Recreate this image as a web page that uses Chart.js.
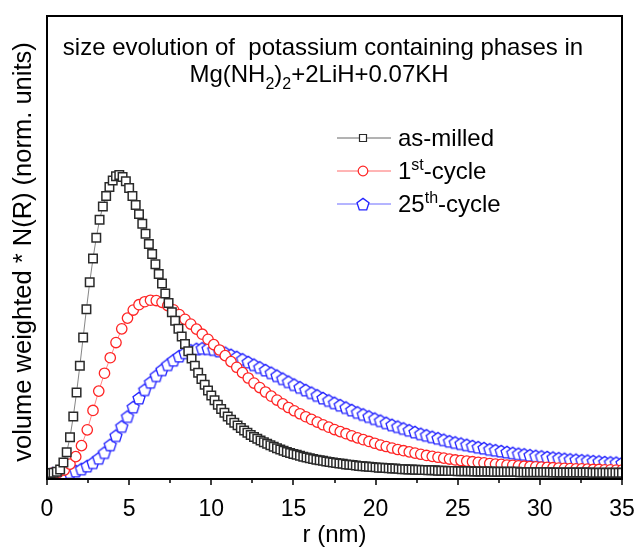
<!DOCTYPE html>
<html>
<head>
<meta charset="utf-8">
<script src="https://cdn.jsdelivr.net/npm/chart.js@4.4.0/dist/chart.umd.min.js"></script>
<style>
  html, body { margin: 0; padding: 0; background: #fff; }
</style>
</head>
<body>
<canvas id="myChart" width="635" height="550"></canvas>
<script>
// radius grid of the as-milled curve (nm)
const rMilled = [
  0, 0.2, 0.4, 0.6, 0.8, 1, 1.2, 1.4, 1.6, 1.8,
  2, 2.2, 2.4, 2.6, 2.8, 3, 3.2, 3.4, 3.6, 3.8,
  4, 4.2, 4.4, 4.6, 4.8, 5, 5.2, 5.4, 5.6, 5.8,
  6, 6.2, 6.4, 6.6, 6.8, 7, 7.2, 7.4, 7.6, 7.8,
  8, 8.2, 8.4, 8.6, 8.8, 9, 9.2, 9.4, 9.6, 9.8,
  10, 10.2, 10.4, 10.6, 10.8, 11, 11.2, 11.4, 11.6, 11.8,
  12, 12.2, 12.4, 12.6, 12.8, 13, 13.2, 13.4, 13.6, 13.8,
  14, 14.2, 14.4, 14.6, 14.8, 15, 15.2, 15.4, 15.6, 15.8,
  16, 16.2, 16.4, 16.6, 16.8, 17, 17.2, 17.4, 17.6, 17.8,
  18, 18.2, 18.4, 18.6, 18.8, 19, 19.2, 19.4, 19.6, 19.8,
  20, 20.2, 20.4, 20.6, 20.8, 21, 21.2, 21.4, 21.6, 21.8,
  22, 22.2, 22.4, 22.6, 22.8, 23, 23.2, 23.4, 23.6, 23.8,
  24, 24.2, 24.4, 24.6, 24.8, 25, 25.2, 25.4, 25.6, 25.8,
  26, 26.2, 26.4, 26.6, 26.8, 27, 27.2, 27.4, 27.6, 27.8,
  28, 28.2, 28.4, 28.6, 28.8, 29, 29.2, 29.4, 29.6, 29.8,
  30, 30.2, 30.4, 30.6, 30.8, 31, 31.2, 31.4, 31.6, 31.8,
  32, 32.2, 32.4, 32.6, 32.8, 33, 33.2, 33.4, 33.6, 33.8,
  34, 34.2, 34.4, 34.6, 34.8, 35
];
const asMilled = [
  0, 0, 0.001, 0.004, 0.012, 0.035, 0.07, 0.12, 0.19, 0.27,
  0.36, 0.455, 0.55, 0.64, 0.72, 0.79, 0.85, 0.895, 0.93, 0.96,
  0.982, 0.996, 1.0, 0.994, 0.979, 0.957, 0.93, 0.9, 0.869, 0.837,
  0.803, 0.769, 0.735, 0.701, 0.668, 0.636, 0.603, 0.571, 0.54, 0.511,
  0.484, 0.458, 0.433, 0.409, 0.384, 0.36, 0.337, 0.316, 0.296, 0.277,
  0.26, 0.244, 0.229, 0.215, 0.202, 0.19, 0.179, 0.169, 0.16, 0.151,
  0.143, 0.135, 0.128, 0.121, 0.115, 0.109, 0.103, 0.098, 0.093, 0.088,
  0.083, 0.079, 0.075, 0.071, 0.067, 0.064, 0.061, 0.058, 0.055, 0.052,
  0.05, 0.047, 0.045, 0.043, 0.041, 0.039, 0.037, 0.035, 0.034, 0.032,
  0.031, 0.029, 0.028, 0.027, 0.025, 0.024, 0.023, 0.022, 0.021, 0.02,
  0.019, 0.018, 0.018, 0.017, 0.016, 0.015, 0.015, 0.014, 0.013, 0.013,
  0.012, 0.012, 0.011, 0.011, 0.01, 0.01, 0.009, 0.009, 0.009, 0.008,
  0.008, 0.008, 0.007, 0.007, 0.007, 0.006, 0.006, 0.006, 0.006, 0.006,
  0.005, 0.005, 0.005, 0.005, 0.005, 0.005, 0.004, 0.004, 0.004, 0.004,
  0.004, 0.004, 0.004, 0.004, 0.003, 0.003, 0.003, 0.003, 0.003, 0.003,
  0.003, 0.003, 0.003, 0.003, 0.002, 0.002, 0.002, 0.002, 0.002, 0.002,
  0.002, 0.002, 0.002, 0.002, 0.002, 0.002, 0.001, 0.001, 0.001, 0.001,
  0.001, 0.001, 0.001, 0.001, 0.001, 0.001
];

// radius grid of the cycled samples (nm)
const rCycle = [
  0.35, 0.7, 1.05, 1.4, 1.75, 2.1, 2.45, 2.8, 3.15, 3.5,
  3.85, 4.2, 4.55, 4.9, 5.25, 5.6, 5.95, 6.3, 6.65, 7,
  7.35, 7.7, 8.05, 8.4, 8.75, 9.1, 9.45, 9.8, 10.15, 10.5,
  10.85, 11.2, 11.55, 11.9, 12.25, 12.6, 12.95, 13.3, 13.65, 14,
  14.35, 14.7, 15.05, 15.4, 15.75, 16.1, 16.45, 16.8, 17.15, 17.5,
  17.85, 18.2, 18.55, 18.9, 19.25, 19.6, 19.95, 20.3, 20.65, 21,
  21.35, 21.7, 22.05, 22.4, 22.75, 23.1, 23.45, 23.8, 24.15, 24.5,
  24.85, 25.2, 25.55, 25.9, 26.25, 26.6, 26.95, 27.3, 27.65, 28,
  28.35, 28.7, 29.05, 29.4, 29.75, 30.1, 30.45, 30.8, 31.15, 31.5,
  31.85, 32.2, 32.55, 32.9, 33.25, 33.6, 33.95, 34.3, 34.65, 35
];
const cycle1 = [
  0, 0.003, 0.01, 0.03, 0.055, 0.092, 0.145, 0.21, 0.275, 0.335,
  0.387, 0.438, 0.484, 0.52, 0.547, 0.565, 0.575, 0.58, 0.579, 0.573,
  0.562, 0.548, 0.532, 0.516, 0.5, 0.483, 0.466, 0.449, 0.431, 0.413,
  0.394, 0.374, 0.355, 0.337, 0.319, 0.302, 0.287, 0.272, 0.258, 0.245,
  0.232, 0.22, 0.209, 0.199, 0.189, 0.18, 0.171, 0.162, 0.154, 0.146,
  0.139, 0.132, 0.125, 0.118, 0.112, 0.106, 0.1, 0.094, 0.089, 0.084,
  0.079, 0.075, 0.071, 0.067, 0.063, 0.059, 0.056, 0.053, 0.05, 0.047,
  0.044, 0.042, 0.04, 0.038, 0.036, 0.034, 0.032, 0.03, 0.029, 0.027,
  0.026, 0.024, 0.023, 0.022, 0.021, 0.02, 0.019, 0.018, 0.017, 0.016,
  0.015, 0.014, 0.014, 0.013, 0.012, 0.012, 0.011, 0.011, 0.01, 0.01
];
const cycle25 = [
  0, 0, 0, 0.002, 0.007, 0.014, 0.024, 0.035, 0.05, 0.069,
  0.095, 0.126, 0.157, 0.19, 0.222, 0.252, 0.28, 0.305, 0.327, 0.347,
  0.364, 0.379, 0.393, 0.404, 0.412, 0.417, 0.419, 0.418, 0.415, 0.41,
  0.404, 0.397, 0.39, 0.382, 0.373, 0.364, 0.355, 0.346, 0.337, 0.327,
  0.317, 0.307, 0.297, 0.288, 0.279, 0.27, 0.261, 0.252, 0.244, 0.236,
  0.228, 0.22, 0.212, 0.204, 0.197, 0.19, 0.183, 0.176, 0.169, 0.162,
  0.156, 0.15, 0.144, 0.138, 0.132, 0.127, 0.122, 0.117, 0.112, 0.107,
  0.103, 0.099, 0.095, 0.091, 0.087, 0.084, 0.08, 0.077, 0.074, 0.071,
  0.068, 0.065, 0.063, 0.06, 0.058, 0.056, 0.054, 0.052, 0.05, 0.048,
  0.046, 0.045, 0.043, 0.042, 0.04, 0.039, 0.037, 0.036, 0.035, 0.034
];

const FONT = '"Liberation Sans", Arial, sans-serif';
const yTitle = 'volume weighted * N(R) (norm. units)';

// open pentagon marker, Chart.js has no pentagon style
function pentagon(color) {
  const c = document.createElement('canvas');
  c.width = c.height = 16;
  const g = c.getContext('2d');
  g.beginPath();
  for (let k = 0; k < 5; k++) {
    const a = -Math.PI / 2 + k * 2 * Math.PI / 5;
    const px = 8 + 6.3 * Math.cos(a), py = 8.7 + 6.3 * Math.sin(a);
    if (k) g.lineTo(px, py); else g.moveTo(px, py);
  }
  g.closePath();
  g.fillStyle = '#fff';
  g.fill();
  g.strokeStyle = color;
  g.lineWidth = 1.3;
  g.stroke();
  return c;
}
const bluePenta = pentagon('#2424ff');

function pairs(xs, ys) {
  return xs.map((x, i) => ({ x: x, y: ys[i] }));
}

// text with sub/superscripts: parts = [[text, 'n'|'sub'|'sup'], ...]
function richText(ctx, parts, x, y, size, align) {
  const small = Math.round(size * 0.66);
  let w = 0;
  parts.forEach(p => {
    ctx.font = (p[1] === 'n' ? size : small) + 'px ' + FONT;
    w += ctx.measureText(p[0]).width;
  });
  let cx = align === 'center' ? x - w / 2 : x;
  parts.forEach(p => {
    ctx.font = (p[1] === 'n' ? size : small) + 'px ' + FONT;
    const dy = p[1] === 'sub' ? size * 0.3 : p[1] === 'sup' ? -size * 0.38 : 0;
    ctx.fillText(p[0], cx, y + dy);
    cx += ctx.measureText(p[0]).width;
  });
}

const decor = {
  id: 'decor',
  afterDatasetsDraw(chart) {
    const { ctx, chartArea: a, scales: { x } } = chart;
    ctx.save();
    // frame
    ctx.strokeStyle = '#000';
    ctx.lineWidth = 2;
    ctx.strokeRect(a.left, a.top, a.right - a.left, a.bottom - a.top);
    // x ticks, major and minor
    ctx.lineWidth = 1.5;
    x.ticks.forEach(t => {
      const px = Math.round(x.getPixelForValue(t.value));
      const len = t.value % 5 === 0 ? 6 : 4;
      ctx.beginPath();
      ctx.moveTo(px, a.bottom);
      ctx.lineTo(px, a.bottom + len);
      ctx.stroke();
    });

    ctx.fillStyle = '#000';
    ctx.textBaseline = 'alphabetic';
    ctx.textAlign = 'left';

    // y axis title
    ctx.save();
    ctx.translate(31, 252);
    ctx.rotate(-Math.PI / 2);
    richText(ctx, [[yTitle, 'n']], 0, 0, 25.5, 'center');
    ctx.restore();

    // title inside the plot
    richText(ctx, [['size evolution of  potassium containing phases in', 'n']], 323, 55, 24, 'center');
    richText(ctx, [['Mg(NH', 'n'], ['2', 'sub'], [')', 'n'], ['2', 'sub'], ['+2LiH+0.07KH', 'n']], 319, 82, 24, 'center');

    // legend
    const rows = [
      { y: 138, parts: [['as-milled', 'n']], ds: 0 },
      { y: 171, parts: [['1', 'n'], ['st', 'sup'], ['-cycle', 'n']], ds: 1 },
      { y: 204, parts: [['25', 'n'], ['th', 'sup'], ['-cycle', 'n']], ds: 2 }
    ];
    rows.forEach(r => {
      const d = chart.data.datasets[r.ds];
      ctx.strokeStyle = d.borderColor;
      ctx.lineWidth = 1;
      ctx.beginPath();
      ctx.moveTo(337, r.y);
      ctx.lineTo(391, r.y);
      ctx.stroke();
      if (r.ds === 2) {
        ctx.drawImage(bluePenta, 363 - 8, r.y - 8);
      } else {
        ctx.fillStyle = '#fff';
        ctx.strokeStyle = d.pointBorderColor;
        ctx.lineWidth = 1.2;
        ctx.beginPath();
        if (d.pointStyle === 'rect') ctx.rect(359.5, r.y - 3.5, 7, 7);
        else ctx.arc(363, r.y, 4.8, 0, Math.PI * 2);
        ctx.fill();
        ctx.stroke();
      }
      ctx.fillStyle = '#000';
      richText(ctx, r.parts, 398, r.y + 8, 24, 'left');
    });
    ctx.restore();
  }
};

const ctx = document.getElementById('myChart').getContext('2d');
const myChart = new Chart(ctx, {
  type: 'line',
  data: {
    datasets: [{
      label: 'as-milled',
      data: pairs(rMilled, asMilled),
      borderColor: '#666',
      borderWidth: 0.8,
      pointStyle: 'rect',
      pointRadius: 6,
      pointBorderColor: '#2a2a2a',
      pointBackgroundColor: '#fff',
      pointBorderWidth: 1.5
    }, {
      label: '1st-cycle',
      data: pairs(rCycle, cycle1),
      borderColor: '#ff6a6a',
      borderWidth: 0.8,
      pointStyle: 'circle',
      pointRadius: 5.2,
      pointBorderColor: '#ff2424',
      pointBackgroundColor: '#fff',
      pointBorderWidth: 1.3
    }, {
      label: '25th-cycle',
      data: pairs(rCycle, cycle25),
      borderColor: '#6a6aff',
      borderWidth: 0.8,
      pointStyle: bluePenta,
      pointRadius: 6,
      pointBorderColor: '#2424ff',
      pointBackgroundColor: '#fff'
    }]
  },
  options: {
    responsive: false,
    animation: false,
    events: [],
    layout: { padding: { top: 16, right: 13, left: 0, bottom: 0 } },
    scales: {
      x: {
        type: 'linear',
        min: 0,
        max: 35,
        border: { display: false },
        grid: { display: false },
        ticks: {
          stepSize: 2.5,
          autoSkip: false,
          maxRotation: 0,
          padding: 9,
          color: '#000',
          font: { family: FONT, size: 23 },
          callback: v => (v % 5 === 0 ? String(v) : '')
        },
        title: {
          display: true,
          text: 'r (nm)',
          color: '#000',
          font: { family: FONT, size: 24 },
          padding: { top: 0, bottom: 0 }
        },
        afterFit(s) {
          s.height = 71;
          s.paddingLeft = 0;
          s.paddingRight = 0;
        }
      },
      y: {
        min: -0.02,
        max: 1.534,
        border: { display: false },
        grid: { display: false },
        ticks: { display: false },
        title: { display: false },
        afterFit(s) { s.width = 47; }
      }
    },
    plugins: {
      legend: { display: false },
      tooltip: { enabled: false }
    }
  },
  plugins: [decor]
});
</script>
</body>
</html>
